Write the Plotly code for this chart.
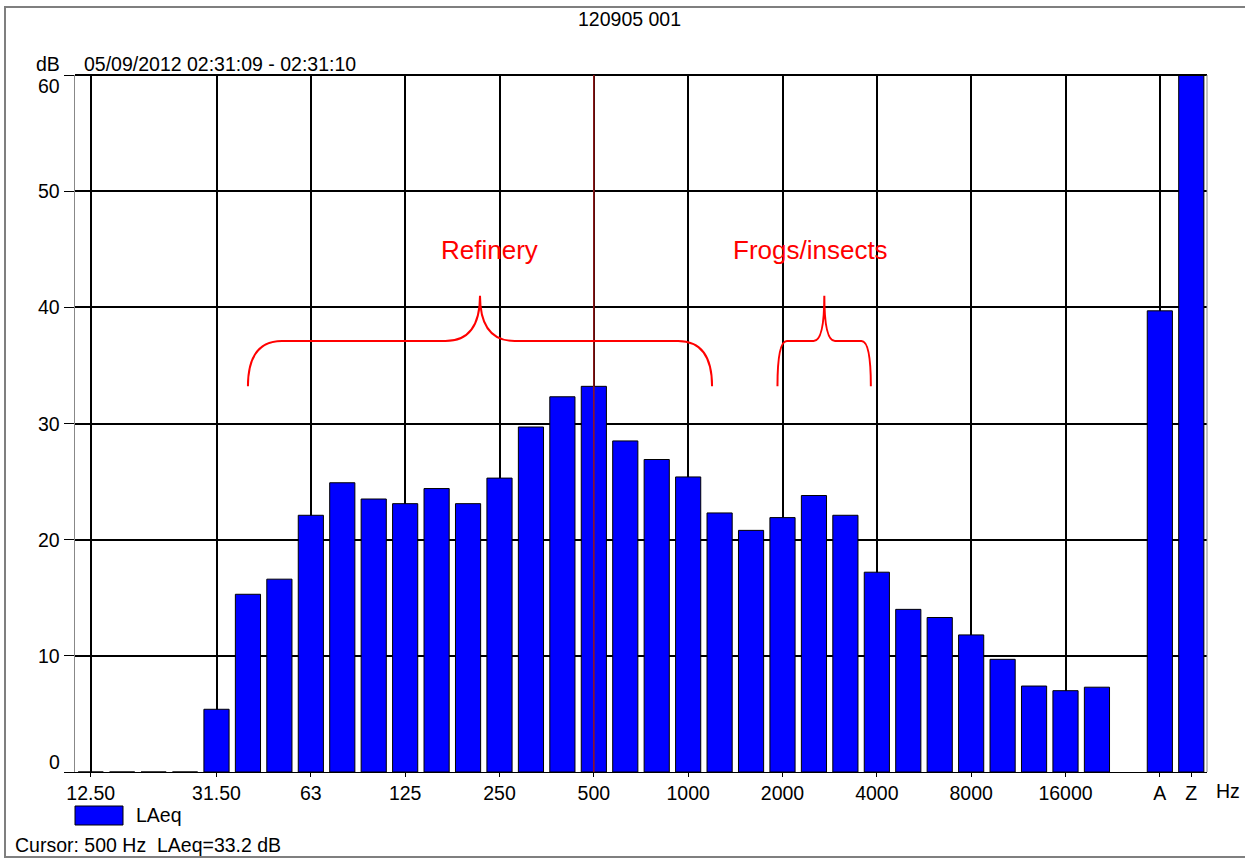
import plotly.graph_objects as go

# ---------------- data ----------------
band_labels = ["12.50", "16", "20", "25", "31.50", "40", "50", "63", "80", "100",
               "125", "160", "200", "250", "315", "400", "500", "630", "800", "1000",
               "1250", "1600", "2000", "2500", "3150", "4000", "5000", "6300", "8000",
               "10000", "12500", "16000", "20000"]
band_levels = [0, 0, 0, 0, 5.4, 15.3, 16.6, 22.1, 24.9, 23.5,
               23.1, 24.4, 23.1, 25.3, 29.7, 32.3, 33.2, 28.5, 26.9, 25.4,
               22.3, 20.8, 21.9, 23.8, 22.1, 17.2, 14.0, 13.3, 11.8,
               9.7, 7.4, 7.0, 7.3]
overall_labels = ["A", "Z"]
overall_levels = [39.7, 62.0]
octave_ticks = ["12.50", "31.50", "63", "125", "250", "500", "1000", "2000",
                "4000", "8000", "16000"]
y_ticks = [0, 10, 20, 30, 40, 50, 60]
series_name = "LAeq"
cursor_band = "500"
title_text = "120905 001"
period_text = "05/09/2012 02:31:09 - 02:31:10"
# (label, brace start, brace end, brace peak, corner width, peak width, label x)
notes = [("Refinery", 5.0, 19.76, 12.38, 1.08, 1.1, 12.67),
         ("Frogs/insects", 21.84, 24.81, 23.33, 0.3, 0.34, 22.9)]

# ---------------- positions ----------------
n = len(band_labels)
band_x = list(range(n))
overall_x = [n + 1 + i for i in range(len(overall_labels))]
all_x = band_x + overall_x
all_y = band_levels + overall_levels

tick_x = [band_labels.index(t) for t in octave_ticks] + overall_x
tick_text = octave_ticks + overall_labels

FONT = "Liberation Sans, Arial, sans-serif"
FS = 19.5
W, H = 1245, 859
ML, MR, MT, MB = 75, 38, 75, 87
PW, PH = W - ML - MR, H - MT - MB

def px_x(px):
    return (px - ML) / PW

def px_y(py):
    return (H - MB - py) / PH

fig = go.Figure()
fig.add_trace(go.Bar(
    x=all_x, y=all_y, width=0.8, name=series_name,
    marker=dict(color="#0000FF", line=dict(color="#000000", width=1)),
    showlegend=False,
))

shapes = []
annotations = []

# plot borders
shapes.append(dict(type="line", xref="paper", yref="paper", x0=0, x1=1, y0=1, y1=1,
                   line=dict(color="#000000", width=2.2), layer="above"))
shapes.append(dict(type="line", xref="paper", yref="paper", x0=1, x1=1, y0=0, y1=1,
                   line=dict(color="#888888", width=1), layer="above"))
# outer frame
shapes.append(dict(type="rect", xref="paper", yref="paper",
                   x0=px_x(5), x1=px_x(1260), y0=px_y(857), y1=px_y(7),
                   line=dict(color="#7f7f7f", width=2), layer="below"))

# cursor line
cx = band_x[band_labels.index(cursor_band)]
shapes.append(dict(type="line", xref="x", yref="paper", x0=cx, x1=cx, y0=0, y1=1,
                   line=dict(color="#961818", width=1.5), layer="above"))

# braces
yb, yh, yp = 33.2, 37.1, 41.0
for text, x0, x1, xp, dc, dp, lx in notes:
    path = (f"M {x0},{yb} Q {x0},{yh} {x0+dc},{yh} L {xp-dp},{yh} "
            f"Q {xp},{yh} {xp},{yp} Q {xp},{yh} {xp+dp},{yh} L {x1-dc},{yh} "
            f"Q {x1},{yh} {x1},{yb}")
    shapes.append(dict(type="path", xref="x", yref="y", path=path,
                       line=dict(color="#FF0000", width=2), layer="above"))
    annotations.append(dict(text=text, x=lx, y=44.9, xref="x", yref="y", showarrow=False,
                            font=dict(family=FONT, size=26, color="#FF0000")))

# y tick labels
for v in y_ticks:
    shift = 0
    if v == y_ticks[-1]:
        shift = -11
    elif v == y_ticks[0]:
        shift = 10
    annotations.append(dict(text=str(v), x=0, xref="paper", y=v, yref="y",
                            xanchor="right", yanchor="middle", xshift=-13, yshift=shift,
                            showarrow=False, font=dict(family=FONT, size=FS, color="#000")))

# texts
annotations.append(dict(text="dB", x=px_x(62), y=px_y(64), xref="paper", yref="paper",
                        xanchor="right", yanchor="middle", showarrow=False,
                        font=dict(family=FONT, size=FS, color="#000")))
annotations.append(dict(text=period_text, x=px_x(82), y=px_y(64), xref="paper", yref="paper",
                        xanchor="left", yanchor="middle", showarrow=False,
                        font=dict(family=FONT, size=FS, color="#000")))
annotations.append(dict(text=title_text, x=px_x(629), y=px_y(19), xref="paper", yref="paper",
                        xanchor="center", yanchor="middle", showarrow=False,
                        font=dict(family=FONT, size=FS, color="#000")))
annotations.append(dict(text="Hz", x=px_x(1228), y=px_y(791), xref="paper", yref="paper",
                        xanchor="center", yanchor="middle", showarrow=False,
                        font=dict(family=FONT, size=FS, color="#000")))

# legend
shapes.append(dict(type="rect", xref="paper", yref="paper",
                   x0=px_x(75), x1=px_x(123), y0=px_y(825), y1=px_y(806),
                   fillcolor="#0000FF", line=dict(color="#000000", width=1)))
annotations.append(dict(text=series_name, x=px_x(134), y=px_y(815), xref="paper", yref="paper",
                        xanchor="left", yanchor="middle", showarrow=False,
                        font=dict(family=FONT, size=FS, color="#000")))

# cursor text
cval = band_levels[band_labels.index(cursor_band)]
annotations.append(dict(text=f"Cursor: {cursor_band} Hz\u00a0 {series_name}={cval:.1f} dB",
                        x=px_x(13), y=px_y(845), xref="paper", yref="paper",
                        xanchor="left", yanchor="middle", showarrow=False,
                        font=dict(family=FONT, size=FS, color="#000")))

fig.update_layout(
    width=W, height=H,
    margin=dict(l=ML, r=MR, t=MT, b=MB, pad=0),
    paper_bgcolor="#FFFFFF", plot_bgcolor="#FFFFFF",
    bargap=0.2,
    shapes=shapes, annotations=annotations,
    showlegend=False,
    xaxis=dict(range=[-0.5, overall_x[-1] + 0.5],
               tickmode="array", tickvals=tick_x, ticktext=tick_text,
               showgrid=True, gridcolor="#000000", gridwidth=1.5,
               ticks="outside", ticklen=4, tickcolor="#000000", tickwidth=1,
               showline=True, linecolor="#000000", linewidth=1,
               zeroline=False, ticklabelstandoff=0,
               tickfont=dict(family=FONT, size=FS, color="#000")),
    yaxis=dict(range=[0, 60], tickmode="array", tickvals=y_ticks,
               showticklabels=False,
               showgrid=True, gridcolor="#000000", gridwidth=1.5,
               ticks="outside", ticklen=10, tickcolor="#000000", tickwidth=1,
               showline=True, linecolor="#888888", linewidth=1,
               zeroline=False),
)

fig.write_html("out.html", config={"displayModeBar": False},
               post_script="document.body.style.margin='0';document.body.style.padding='0';")
